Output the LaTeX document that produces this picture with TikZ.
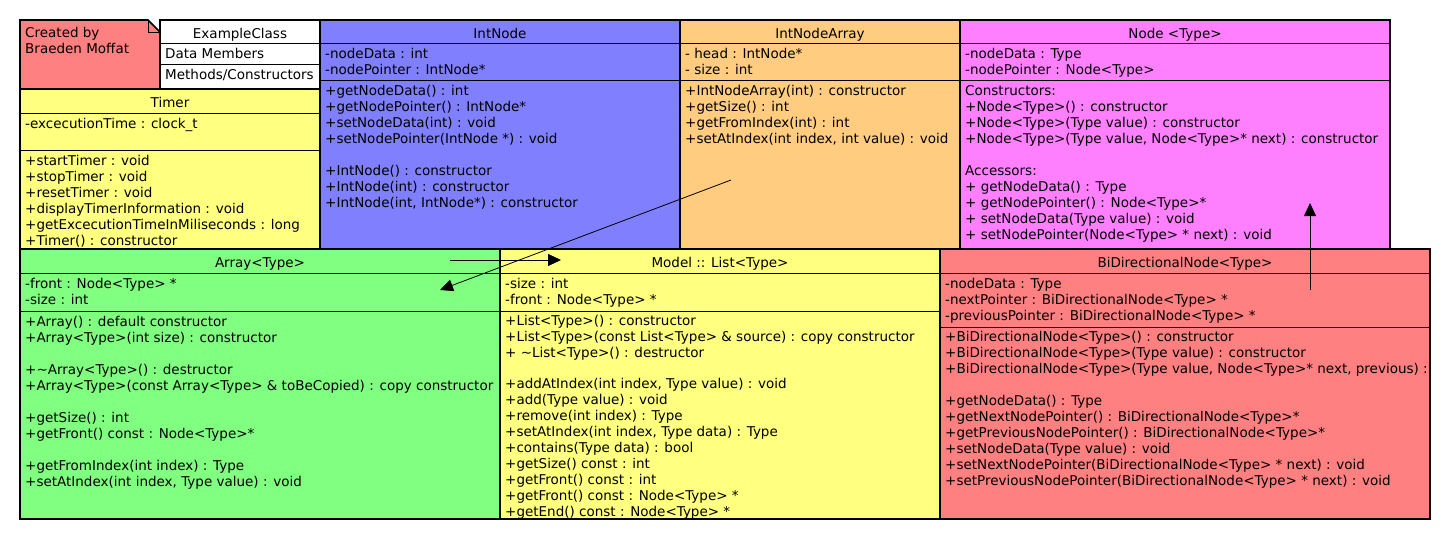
\documentclass[tikz,border=0pt]{standalone}
\usepackage{fontspec}
\setmainfont{DejaVu Sans}
\usetikzlibrary{arrows.meta}
\definecolor{cnote}{HTML}{FF8080}
\definecolor{cblue}{HTML}{8080FF}
\definecolor{corange}{HTML}{FFCC80}
\definecolor{cpink}{HTML}{FF80FF}
\definecolor{cyellow}{HTML}{FFFF80}
\definecolor{cgreen}{HTML}{80FF80}
\definecolor{cred}{HTML}{FF8080}
\newcommand{\umlfont}{\fontsize{13.5}{16}\selectfont}
\begin{document}
\begin{tikzpicture}[x=1pt,y=-1pt,
  boxline/.style={draw=black,line width=1.6pt},
  divline/.style={draw=black,line width=0.9pt},
  ttl/.style={anchor=base,inner sep=0pt,font=\umlfont},
  lbl/.style={anchor=base west,inner sep=0pt,font=\umlfont},
  body/.style={anchor=north west,inner sep=0pt,align=left,font=\umlfont},
  conn/.style={draw=black,line width=0.8pt,-{Triangle[length=13pt,width=12pt]}}]
\useasboundingbox (0,0) rectangle (1450,540);
\fill[white] (0,0) rectangle (1450,540);

% ---------- boxes ----------
% note
\path[fill=cnote,boxline] (20,20) -- (148,20) -- (160,32) -- (160,89) -- (20,89) -- cycle;
\draw[divline] (148,20) -- (148,32) -- (160,32);
% ExampleClass
\path[fill=white,boxline] (160,20) rectangle (320,89);
\draw[divline] (160,43) -- (320,43) (160,64) -- (320,64);
% Timer
\path[fill=cyellow,boxline] (20,89) rectangle (320,249);
\draw[divline] (20,113) -- (320,113) (20,150) -- (320,150);
% IntNode
\path[fill=cblue,boxline] (320,20) rectangle (680,249);
\draw[divline] (320,43) -- (680,43) (320,80) -- (680,80);
% IntNodeArray
\path[fill=corange,boxline] (680,20) rectangle (960,249);
\draw[divline] (680,43) -- (960,43) (680,80) -- (960,80);
% Node<Type>
\path[fill=cpink,boxline] (960,20) rectangle (1390,249);
\draw[divline] (960,43) -- (1390,43) (960,80) -- (1390,80);
% Array<Type>
\path[fill=cgreen,boxline] (20,249) rectangle (500,519);
\draw[divline] (20,273) -- (500,273) (20,311) -- (500,311);
% Model :: List<Type>
\path[fill=cyellow,boxline] (500,249) rectangle (940,519);
\draw[divline] (500,273) -- (940,273) (500,311) -- (940,311);
% BiDirectionalNode<Type>
\path[fill=cred,boxline] (940,249) rectangle (1430,519);
\draw[divline] (940,273) -- (1430,273) (940,327) -- (1430,327);

% ---------- note ----------
\node[lbl] (noteA) at (25,38) {Created by};
\node[lbl] (noteB) at (25,54) {Braeden Moffat};

% ---------- ExampleClass ----------
\node[ttl] (exT) at (240,38.5) {ExampleClass};
\node[lbl] (exA) at (165,59) {Data Members};
\node[lbl] (exM) at (165,80) {Methods/Constructors};

% ---------- Timer ----------
\node[ttl] (tiT) at (170,107.5) {Timer};
\node[body] (tiA) at (25,116.8) {\strut -excecutionTime : clock\_t};
\node[body] (tiM) at (25,153.8) {\strut +startTimer : void\\
+stopTimer : void\\
+resetTimer : void\\
+displayTimerInformation : void\\
+getExcecutionTimeInMiliseconds : long\\
+Timer() : constructor};

% ---------- IntNode ----------
\node[ttl] (inT) at (500,38.5) {IntNode};
\node[body] (inA) at (325,46.8) {\strut -nodeData : int\\
-nodePointer : IntNode*};
\node[body] (inM) at (325,83.8) {\strut +getNodeData() : int\\
+getNodePointer() : IntNode*\\
+setNodeData(int) : void\\
+setNodePointer(IntNode *) : void\\[16pt]
+IntNode() : constructor\\
+IntNode(int) : constructor\\
+IntNode(int, IntNode*) : constructor};

% ---------- IntNodeArray ----------
\node[ttl] (iaT) at (820,38.5) {IntNodeArray};
\node[body] (iaA) at (685,46.8) {\strut - head : IntNode*\\
- size : int};
\node[body] (iaM) at (685,83.8) {\strut +IntNodeArray(int) : constructor\\
+getSize() : int\\
+getFromIndex(int) : int\\
+setAtIndex(int index, int value) : void};

% ---------- Node<Type> ----------
\node[ttl] (ndT) at (1175,38.5) {Node <Type>};
\node[body] (ndA) at (965,46.8) {\strut -nodeData : Type\\
-nodePointer : Node<Type>};
\node[body] (ndM) at (965,83.8) {\strut Constructors:\\
+Node<Type>() : constructor\\
+Node<Type>(Type value) : constructor\\
+Node<Type>(Type value, Node<Type>* next) : constructor\\[16pt]
Accessors:\\
+ getNodeData() : Type\\
+ getNodePointer() : Node<Type>*\\
+ setNodeData(Type value) : void\\
+ setNodePointer(Node<Type> * next) : void};

% ---------- Array<Type> ----------
\node[ttl] (arT) at (260,267.5) {Array<Type>};
\node[body] (arA) at (25,276.8) {\strut -front : Node<Type> *\\
-size : int};
\node[body] (arM) at (25,314.8) {\strut +Array() : default constructor\\
+Array<Type>(int size) : constructor\\[16pt]
+\textasciitilde Array<Type>() : destructor\\
+Array<Type>(const Array<Type> \& toBeCopied) : copy constructor\\[16pt]
+getSize() : int\\
+getFront() const : Node<Type>*\\[16pt]
+getFromIndex(int index) : Type\\
+setAtIndex(int index, Type value) : void};

% ---------- Model :: List<Type> ----------
\node[ttl] (liT) at (720,267.5) {Model :: List<Type>};
\node[body] (liA) at (505,276.8) {\strut -size : int\\
-front : Node<Type> *};
\node[body] (liM) at (505,313.8) {\strut +List<Type>() : constructor\\
+List<Type>(const List<Type> \& source) : copy constructor\\
+ \textasciitilde List<Type>() : destructor\\[15pt]
+addAtIndex(int index, Type value) : void\\
+add(Type value) : void\\
+remove(int index) : Type\\
+setAtIndex(int index, Type data) : Type\\
+contains(Type data) : bool\\
+getSize() const : int\\
+getFront() const : int\\
+getFront() const : Node<Type> *\\
+getEnd() const : Node<Type> *};

% ---------- BiDirectionalNode<Type> ----------
\node[ttl] (bdT) at (1185,267.5) {BiDirectionalNode<Type>};
\begin{scope}
\clip (940,249) rectangle (1431,519);
\node[body] (bdA) at (945,276.8) {\strut -nodeData : Type\\
-nextPointer : BiDirectionalNode<Type> *\\
-previousPointer : BiDirectionalNode<Type> *};
\node[body] (bdM) at (945,329.8) {\strut +BiDirectionalNode<Type>() : constructor\\
+BiDirectionalNode<Type>(Type value) : constructor\\
+BiDirectionalNode<Type>(Type value, Node<Type>* next, previous) :\\[16pt]
+getNodeData() : Type\\
+getNextNodePointer() : BiDirectionalNode<Type>*\\
+getPreviousNodePointer() : BiDirectionalNode<Type>*\\
+setNodeData(Type value) : void\\
+setNextNodePointer(BiDirectionalNode<Type> * next) : void\\
+setPreviousNodePointer(BiDirectionalNode<Type> * next) : void};
\end{scope}

% ---------- connectors ----------
\coordinate (c1s) at (731,180);
\coordinate (c1e) at (440,290);
\coordinate (c2s) at (450,260);
\coordinate (c2e) at (561,260);
\coordinate (c3s) at (1310,290);
\coordinate (c3e) at (1310,203);
\draw[conn] (c1s) -- (c1e);
\draw[conn] (c2s) -- (c2e);
\draw[conn] (c3s) -- (c3e);
\end{tikzpicture}
\end{document}
